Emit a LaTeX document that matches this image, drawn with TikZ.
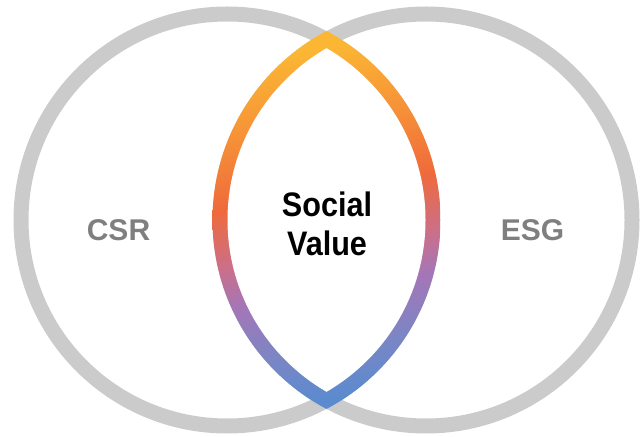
\documentclass[tikz,border=0pt]{standalone}
\usepackage{fontspec}
\setmainfont{Liberation Sans}
\newfontfamily\Etroite[FakeStretch=0.9]{Liberation Sans}
\usepackage{tikz}
\definecolor{GrisCercle}{HTML}{CBCBCB}
\definecolor{GrisTexte}{HTML}{7F7F7F}
\definecolor{BleuL}{HTML}{5A8BCF}
\definecolor{IndigoL}{HTML}{7B86C5}
\definecolor{MauveL}{HTML}{A476B7}
\definecolor{RoseL}{HTML}{CC6F88}
\definecolor{RougeL}{HTML}{EF6A3B}
\definecolor{OrangeL}{HTML}{F69238}
\definecolor{JauneL}{HTML}{FBB633}
\pgfdeclareverticalshading{Lentille}{100bp}{
 color(0bp)=(BleuL); color(25bp)=(BleuL); color(32bp)=(IndigoL);
 color(40bp)=(MauveL); color(46bp)=(RoseL); color(54bp)=(RougeL);
 color(64bp)=(OrangeL); color(74bp)=(JauneL); color(100bp)=(JauneL)}
\tikzset{
Cercle/.style={
 draw=GrisCercle, 
 line width=15pt
 },
Etiquette/.style={
 anchor=base, 
 inner sep=0pt, 
 text=GrisTexte, 
 font=\bfseries\fontsize{30}{36}\selectfont
 },
Centre/.style={
 anchor=north, 
 inner sep=0pt, 
 align=center, 
 text=black, 
 font=\Etroite\bfseries\fontsize{34}{38.5}\selectfont
 }
}

\begin{document}
\begin{tikzpicture}[x=1pt,y=1pt]
\useasboundingbox (0,0) rectangle (644,436);
\coordinate (CentreG) at (227,216);
\coordinate (CentreD) at (426,216);
\draw[Cercle] (CentreG) circle (206pt);
\draw[Cercle] (CentreD) circle (206pt);
% lentille en degrade
\begin{scope}
\clip (CentreG) circle (213.5pt);
\clip (CentreD) circle (213.5pt);
\shade[shading=Lentille,shading angle=10] (212.5,27) rectangle (440.5,405);
\end{scope}
\begin{scope}
\clip (CentreG) circle (198.5pt);
\fill[white] (CentreD) circle (198.5pt);
\end{scope}
\node[Etiquette] (csr) at (118.5,195) {CSR};
\node[Etiquette] (esg) at (532.5,195) {ESG};
\node[Centre] (valeur) at (327,244) {Social\\Value};
\end{tikzpicture}
\end{document}
